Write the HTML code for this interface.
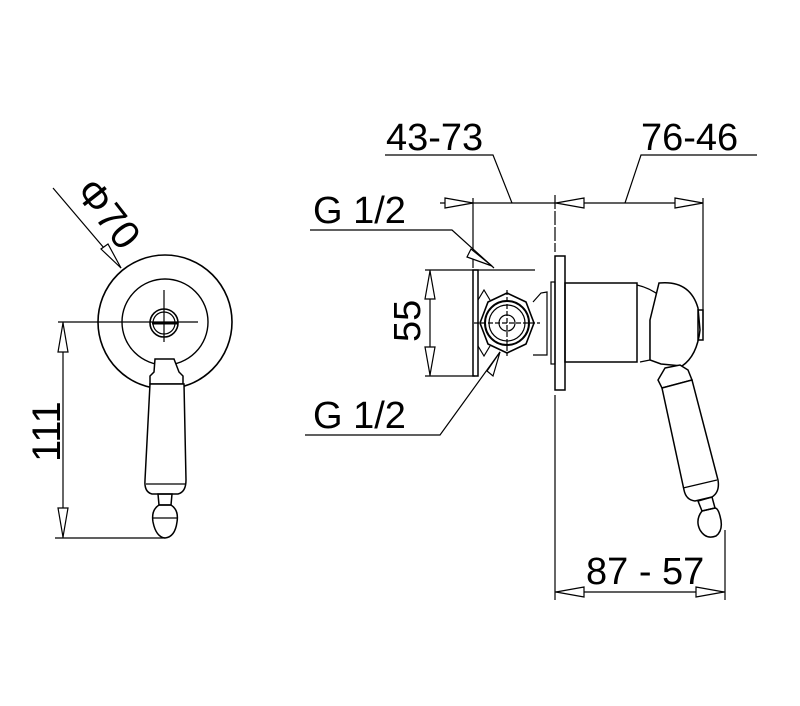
<!DOCTYPE html>
<html><head><style>body{margin:0;background:#fff}svg{display:block}text{font-family:"Liberation Sans",sans-serif;fill:#000}</style></head><body>
<svg width="800" height="706" viewBox="0 0 800 706" xmlns="http://www.w3.org/2000/svg" fill="none" stroke="#000" stroke-width="1.2">
<!-- LEFT VIEW -->
<circle cx="165" cy="322" r="67" stroke-width="1.6"/>
<circle cx="165" cy="322" r="43" stroke-width="1.4"/>
<circle cx="164" cy="323" r="14" stroke-width="1.6"/>
<circle cx="164" cy="323" r="11"/>
<line x1="58" y1="322" x2="198" y2="322"/>
<line x1="164" y1="290" x2="164" y2="342"/>
<line x1="152" y1="323" x2="178" y2="323" stroke-width="3"/>
<!-- handle left -->
<path d="M155 359 L174 359 L179 372 L183 376 L183 384 L150 384 L150 376 L154 372 Z" fill="#fff" stroke-width="1.5"/>
<path d="M150 384 L184 384 L186 480 Q186 492 178 494 L152 494 Q144 492 145 480 Z" fill="#fff" stroke-width="1.5"/>
<line x1="146" y1="484" x2="186" y2="484"/>
<path d="M158 494 L172 494 L171 505 L159 505 Z" stroke-width="1.5"/>
<path d="M159 505 Q151 510 153 522 Q156 537 165 538 Q175 537 177 522 Q179 510 171 505 Z" stroke-width="1.5"/>
<line x1="153" y1="518" x2="177" y2="518"/>
<!-- 111 -->
<line x1="63" y1="322" x2="63" y2="538"/>
<line x1="55" y1="538" x2="165" y2="538"/>
<path d="M63 323 L58 352 L68 352 Z M63 537 L58 508 L68 508 Z" fill="#fff"/>
<text x="0" y="0" font-size="40" stroke="none" transform="translate(60,462) rotate(-90)">111</text>
<!-- phi70 -->
<line x1="53" y1="188" x2="121" y2="268"/>
<path d="M121 268 L101 249 L108 244 Z" fill="#fff"/>
<text font-size="40" stroke="none" transform="translate(74,192) rotate(52)">Φ70</text>

<!-- RIGHT VIEW dims -->
<line x1="440" y1="203" x2="703" y2="203"/>
<path d="M473 203 L445 198 L445 208 Z M556 203 L584 198 L584 208 Z M703 203 L675 198 L675 208 Z" fill="#fff"/>
<line x1="473" y1="198" x2="473" y2="268"/>
<line x1="555" y1="195" x2="555" y2="252" stroke-dasharray="14 2"/>
<line x1="555" y1="395" x2="555" y2="600"/>
<line x1="703" y1="198" x2="703" y2="330"/>
<polyline points="385,155 493,155 512,203"/>
<polyline points="625,203 641,155 757,155"/>
<text x="386" y="150" font-size="38" stroke="none">43-73</text>
<text x="641" y="150" font-size="38" stroke="none">76-46</text>
<!-- G 1/2 -->
<polyline points="310,230 452,230 494,268"/>
<path d="M492 266 L471 249 L467 257 Z" fill="#fff"/>
<text x="313" y="223" font-size="38" stroke="none">G 1/2</text>
<polyline points="305,435 440,435 500,352"/>
<path d="M500 352 L487 371 L493 376 Z" fill="#fff"/>
<text x="313" y="428" font-size="38" stroke="none">G 1/2</text>
<!-- 55 -->
<line x1="430" y1="270" x2="430" y2="376"/>
<line x1="425" y1="270" x2="535" y2="270"/>
<line x1="425" y1="376" x2="475" y2="376"/>
<path d="M430 271 L425 299 L435 299 Z M430 375 L425 347 L435 347 Z" fill="#fff"/>
<text font-size="38" stroke="none" transform="translate(420,342) rotate(-90)">55</text>
<!-- body -->
<rect x="473" y="270" width="5" height="106" stroke-width="1.5"/>
<path d="M478 300 L484 290 L490 300 M478 346 L484 356 L490 346"/>
<polygon points="480,323 488,302 507,293 526,302 534,323 526,344 507,353 488,344" stroke-width="1.6"/>
<circle cx="507" cy="323" r="22" stroke-width="2"/>
<circle cx="507" cy="323" r="18"/>
<circle cx="507" cy="323" r="8"/>
<line x1="474" y1="323" x2="540" y2="323" stroke-dasharray="5 2"/>
<line x1="507" y1="290" x2="507" y2="356" stroke-dasharray="5 2"/>
<path d="M533 302 L541 293 L547 292 L547 355 L533 355"/>
<rect x="551" y="282" width="4" height="82"/>
<rect x="555" y="256" width="10" height="134" stroke-width="1.5"/>
<rect x="565" y="283" width="72" height="79" stroke-width="1.5"/>
<path d="M637 285 Q650 288 660 296 L650 320 L650 360 L640 362"/>
<path d="M659 283 Q690 280 698 308 L700 330 Q697 356 682 366 L661 364 L650 360 L650 320 Z" stroke-width="1.5" fill="#fff"/>
<rect x="698" y="310" width="5" height="30" stroke-width="1.5"/>
<!-- handle right -->
<path d="M665 368 L680 365 L688 370 L692 380 L662 388 L658 380 Z" stroke-width="1.5" fill="#fff"/>
<path d="M662 388 L692 380 L718 480 Q720 492 712 497 L695 501 Q686 500 684 490 Z" stroke-width="1.5" fill="#fff"/>
<line x1="683" y1="488" x2="717" y2="480"/>
<path d="M698 501 L712 497 L715 508 L702 511 Z" stroke-width="1.5"/>
<path d="M702 511 Q695 520 700 530 Q706 540 716 536 Q724 530 720 516 Q718 508 715 508 Z" stroke-width="1.5"/>
<!-- 87-57 -->
<line x1="555" y1="592" x2="725" y2="592"/>
<line x1="725" y1="530" x2="725" y2="600"/>
<path d="M556 592 L584 587 L584 597 Z M724 592 L696 587 L696 597 Z" fill="#fff"/>
<text x="586" y="584" font-size="38" stroke="none">87 - 57</text>
</svg>
</body></html>
